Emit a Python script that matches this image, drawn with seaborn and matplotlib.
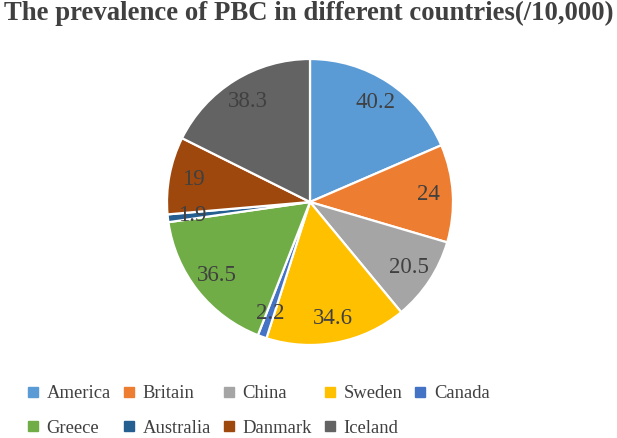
import matplotlib
matplotlib.use("Agg")
import matplotlib.pyplot as plt
from matplotlib.lines import Line2D
import seaborn as sns

countries = ["America", "Britain", "China", "Sweden", "Canada",
             "Greece", "Australia", "Danmark", "Iceland"]
values = [40.2, 24, 20.5, 34.6, 2.2, 36.5, 1.9, 19, 38.3]
colors = ["#5B9BD5", "#ED7D31", "#A5A5A5", "#FFC000", "#4472C4",
          "#70AD47", "#255E91", "#9E480E", "#636363"]
title = "The prevalence of PBC in different countries(/10,000)"

sns.set_theme(style="white")
plt.rcParams["font.family"] = ["Liberation Serif", "DejaVu Serif"]
palette = sns.color_palette(colors)

W, H = 617, 438
fig = plt.figure(figsize=(W / 100, H / 100), dpi=100)
cx, cy, r = 310, 202, 143
ax = fig.add_axes([(cx - r) / W, (H - cy - r) / H, 2 * r / W, 2 * r / H])

total = sum(values)


def fmt(p):
    v = p * total / 100
    s = f"{v:.1f}"
    if s.endswith(".0"):
        s = s[:-2]
    return s


wedges, _, autotexts = ax.pie(
    values, colors=palette, startangle=90, counterclock=False,
    autopct=fmt, pctdistance=0.83,
    wedgeprops=dict(edgecolor="white", linewidth=1.6),
    textprops=dict(fontsize=16.5, color="#404040"),
)
ax.set_xlim(-1, 1)
ax.set_ylim(-1, 1)
ax.set_aspect("equal")

fig.suptitle(title, fontsize=19.3, fontweight="bold", color="#404040",
             x=0.5, y=0.997, va="top")

order = [0, 5, 1, 6, 2, 7, 3, 8, 4]
handles = [Line2D([], [], marker="s", linestyle="none", markersize=6.5,
                  markerfacecolor=colors[i], markeredgecolor=colors[i])
           for i in order]
labels = [countries[i] for i in order]
fig.legend(handles, labels, ncol=5, loc="lower left",
           bbox_to_anchor=(28 / W, 0.003), frameon=False, borderpad=0,
           borderaxespad=0,
           fontsize=13.4, labelcolor="#404040", handlelength=0.5,
           handletextpad=0.5, columnspacing=0.7, labelspacing=0.94)

fig.savefig("out.png", dpi=100, facecolor="white")
